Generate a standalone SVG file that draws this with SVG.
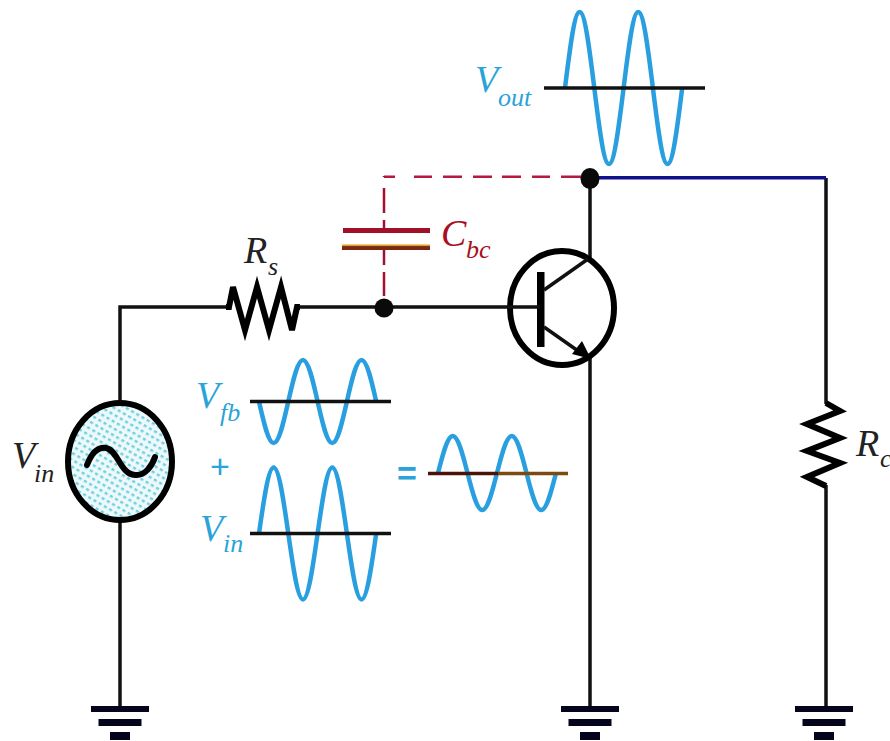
<svg xmlns="http://www.w3.org/2000/svg" width="890" height="741" viewBox="0 0 890 741">
<style>
.w{fill:none;stroke:#111;stroke-width:3.5}
.b{fill:none;stroke:#000;stroke-width:6;stroke-linejoin:miter}
.wave{fill:none;stroke:#2a9fe0;stroke-width:4.5}
.axis{stroke:#111;stroke-width:3.5}
.gnd{fill:#04041c}
.lab{font-family:"Liberation Serif",serif;font-style:italic}
.big{font-size:38px}
.sub{font-size:26px}
.blue{fill:#2aa3d8}
.red{fill:#a81020}
.blk{fill:#222}
.dash{fill:none;stroke:#b81840;stroke-width:2.5}
.dashv{fill:none;stroke:#a01030;stroke-width:2.5}
.dot{fill:#0a0a0a}
.sym{font-family:"Liberation Sans",sans-serif;font-size:34px;text-anchor:middle}
</style>
<defs>
<pattern id="dots" width="6" height="6" patternUnits="userSpaceOnUse" patternTransform="rotate(30)">
<rect width="6" height="6" fill="#eef9fa"/>
<rect x="1" y="1" width="3.2" height="2.4" fill="#6fd0e4"/>
</pattern>
<symbol id="ground" overflow="visible">
<rect class="gnd" x="-29" y="-3" width="58" height="6"/>
<rect class="gnd" x="-21.5" y="10" width="43" height="7"/>
<rect class="gnd" x="-10" y="23" width="20" height="8"/>
</symbol>
</defs>
<rect width="890" height="741" fill="#fff"/>
<g id="connectors">
<path class="w" d="M120 402V307H228M298 307H508"/>
<path class="w" d="M120 521V708"/>
<path class="w" d="M590 178V262M590 356V708"/>
<path class="w" d="M826 178V404M826 485V708"/>
<path d="M590 177.7H826" fill="none" stroke="#10108a" stroke-width="3.5"/>
<path class="dash" d="M384 176.7H395M414 176.7H432M443 176.7H462M473 176.7H492M502 176.7H521M532 176.7H550M561 176.7H582"/>
<path class="dashv" d="M384 176V177M384 188V213M384 220V229M384 250V265M384 272V296"/>
</g>
<g id="junctions">
<ellipse class="dot" cx="590" cy="178.5" rx="9.5" ry="10.5"/>
<circle class="dot" cx="384" cy="308" r="9.5"/>
</g>
<g id="capacitor">
<rect x="343" y="228" width="87" height="5" fill="#a01028"/>
<rect x="342" y="245" width="88" height="5" fill="#7a2a14"/>
<rect x="342" y="244.5" width="88" height="1.6" fill="#e0a020"/>
<text class="lab big red" x="441" y="246">C</text><text class="lab sub red" x="466" y="258">bc</text>
</g>
<g id="resistor-s">
<path class="b" d="M226 307H229L233 287L245 330L257 287L269 330L281 287L292 330L297 307H300"/>
<text class="lab big blk" x="244" y="263">R</text><text class="lab sub blk" x="268" y="275">s</text>
</g>
<g id="resistor-c">
<path class="b" d="M826 403L840 411L807 424L840 438L807 451L840 463L807 477L826 486"/>
<text class="lab big blk" x="856" y="456">R</text><text class="lab sub blk" x="880" y="467">c</text>
</g>
<g id="source">
<ellipse cx="120" cy="461.5" rx="52" ry="58.5" fill="url(#dots)" stroke="#000" stroke-width="6"/>
<path d="M87 465C92 452 99 447 106 448C118 450 120 474 135 475C145 476 152 466 155 457" fill="none" stroke="#000" stroke-width="6" stroke-linecap="round"/>
<text class="lab big blk" x="12" y="468">V</text><text class="lab sub blk" x="34" y="482">in</text>
</g>
<g id="transistor">
<ellipse cx="562" cy="308" rx="52" ry="57" fill="none" stroke="#000" stroke-width="6"/>
<rect x="537" y="272" width="7.5" height="75" fill="#000"/>
<path class="w" d="M507 307H540M544 290L588 259M544 327L581 353"/>
<path d="M591 359L572 354L582 341Z" fill="#000"/>
</g>
<g id="vout">
<path class="wave" d="M565 88c4.78-38.9 9.35-76 14.65-76s9.87 37.1 14.65 76s9.35 76 14.65 76s9.87-37.1 14.65-76s9.35-76 14.65-76s9.87 37.1 14.65 76s9.35 76 14.65 76s9.87-37.1 14.65-76"/>
<path class="axis" d="M544 88H705"/>
<text class="lab big blue" x="475" y="92">V</text><text class="lab sub blue" x="498" y="106">out</text>
</g>
<g id="vfb">
<path class="wave" d="M259 401.5c4.78 21.3 9.35 41.5 14.65 41.5s9.87-20.2 14.65-41.5s9.35-41.5 14.65-41.5s9.87 20.2 14.65 41.5s9.35 41.5 14.65 41.5s9.87-20.2 14.65-41.5s9.35-41.5 14.65-41.5s9.87 20.2 14.65 41.5"/>
<path class="axis" d="M250 401.5H391"/>
<text class="lab big blue" x="196" y="408">V</text><text class="lab sub blue" x="220" y="421">fb</text>
</g>
<g id="plus"><text x="220" y="478" class="sym blue">+</text></g>
<g id="vin">
<path class="wave" d="M259 533.5c4.78-33.8 9.35-66 14.65-66s9.87 32.2 14.65 66s9.35 66 14.65 66s9.87-32.2 14.65-66s9.35-66 14.65-66s9.87 32.2 14.65 66s9.35 66 14.65 66s9.87-32.2 14.65-66"/>
<path class="axis" d="M250 533.5H391"/>
<text class="lab big blue" x="200" y="541">V</text><text class="lab sub blue" x="223" y="552">in</text>
</g>
<g id="equals"><text x="407" y="485" class="sym blue" font-weight="bold">=</text></g>
<g id="vsum">
<path class="wave" d="M438 473c4.8-19 9.4-37 14.75-37s9.95 18 14.75 37s9.4 37 14.75 37s9.95-18 14.75-37s9.4-37 14.75-37s9.95 18 14.75 37s9.4 37 14.75 37s9.95-18 14.75-37"/>
<path d="M428 473.5H498" stroke="#4a1208" stroke-width="3.5"/>
<path d="M498 473.5H568" stroke="#7a4a10" stroke-width="3.5"/>
</g>
<g id="grounds">
<use href="#ground" x="120" y="709"/>
<use href="#ground" x="590" y="709"/>
<use href="#ground" x="824" y="709"/>
</g>
</svg>
